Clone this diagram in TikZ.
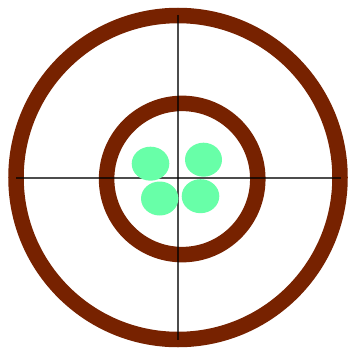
\documentclass[tikz,border=0pt]{standalone}
\definecolor{ringbrown}{HTML}{772200}
\definecolor{blobgreen}{HTML}{68FFA8}
\begin{document}
\begin{tikzpicture}[x=1pt,y=-1pt,
  ring/.style={draw=ringbrown,line width=15.5pt},
  cross/.style={draw=black,opacity=0.7,line width=1.6pt},
  blob/.style={fill=blobgreen}]
\useasboundingbox[fill=white] (0,0) rectangle (349,350);
\draw[ring] (178,177.5) circle[radius=162];
\draw[ring] (182.2,179) circle[radius=75.6];
\coordinate (hl) at (16,177.7);
\coordinate (hr) at (340.7,177.7);
\coordinate (vt) at (178,15);
\coordinate (vb) at (178,340);
\draw[cross] (hl) -- (hr);
\draw[cross] (vt) -- (vb);
\fill[blob] (150.5,163.7) ellipse[x radius=18.8,y radius=17];
\fill[blob] (203.5,159.7) ellipse[x radius=18.5,y radius=17];
\fill[blob] (159.7,198.5) ellipse[x radius=18.7,y radius=17];
\fill[blob] (200.5,196.2) ellipse[x radius=18.8,y radius=17];
\end{tikzpicture}
\end{document}
